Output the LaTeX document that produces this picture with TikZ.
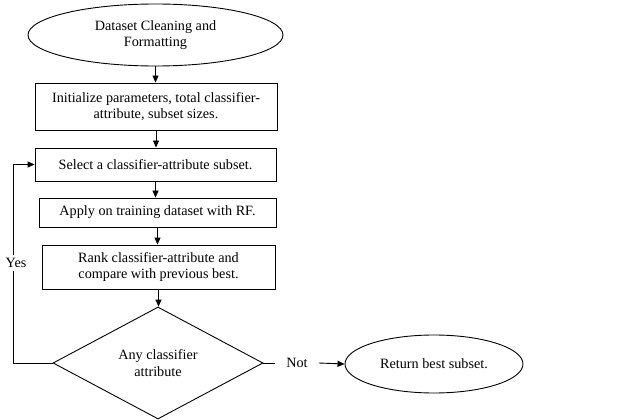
\documentclass[tikz,border=0pt]{standalone}
\usepackage{fontspec}
\setmainfont{Liberation Serif}
\usetikzlibrary{shapes.geometric,arrows.meta}
\begin{document}
\begin{tikzpicture}[x=1pt,y=-1pt,
  every node/.style={font=\fontsize{14.2}{16.5}\selectfont, align=center, inner sep=0pt},
  procbox/.style={draw, rectangle, line width=0.9pt},
  oval/.style={draw, ellipse, line width=0.9pt},
  decide/.style={draw, diamond, line width=0.9pt},
  flow/.style={line width=0.9pt, -{Triangle[length=7pt,width=6pt]}},
  plain/.style={line width=0.9pt}]
\useasboundingbox (0,0) rectangle (625,420);
\node[oval, minimum width=255pt, minimum height=62pt] (e1) at (155.5,35) {Dataset Cleaning and\\Formatting};
\node[procbox, minimum width=242pt, minimum height=47pt] (b1) at (156,106.5) {Initialize parameters, total classifier-\\attribute, subset sizes.};
\node[procbox, minimum width=241pt, minimum height=33pt] (b2) at (155.5,164.5) {Select a classifier-attribute subset.};
\node[procbox, minimum width=237pt, minimum height=29pt] (b3) at (157.5,212.5) {Apply on training dataset with RF.};
\node[procbox, minimum width=233pt, minimum height=44pt] (b4) at (158.5,267) {Rank classifier-attribute and\\compare with previous best.};
\node[decide, minimum width=210pt, minimum height=112pt, aspect=1.875] (d) at (158,363) {Any classifier\\attribute};
\node[oval, minimum width=178pt, minimum height=58pt] (e2) at (434,364) {Return best subset.};
\node[inner xsep=11pt, inner ysep=3pt] (nl) at (297,363) {Not};
\coordinate (lp) at (13,363);
\draw[flow] (e1.south) -- (e1.south |- b1.north);
\draw[flow] (b1.south) -- (b1.south |- b2.north);
\draw[flow] (b2.south) -- (b2.south |- b3.north);
\draw[flow] (b3.south) -- (b3.south |- b4.north);
\draw[flow] (b4.south) -- (b4.south |- d.north);
\draw[flow] (d.west) -- (lp) |- (b2.west);
\node[fill=white, inner xsep=1pt, inner ysep=3pt] (yl) at (16,263) {Yes};
\draw[plain] (d.east) -- (nl.west);
\draw[flow] (nl.east) -- (e2.west);
\end{tikzpicture}
\end{document}
